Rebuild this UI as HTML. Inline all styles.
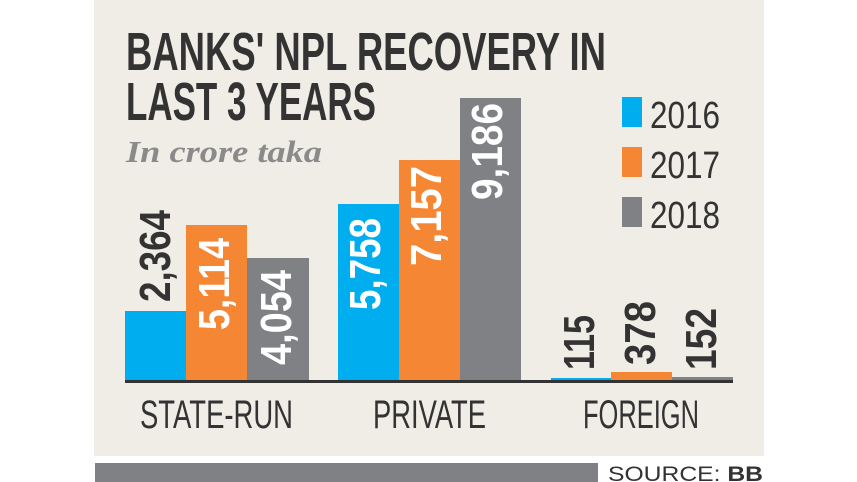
<!DOCTYPE html>
<html><head><meta charset="utf-8"><style>
html,body{margin:0;padding:0;background:#fff;width:857px;height:482px;overflow:hidden}
svg{display:block}
</style></head><body>
<svg width="857" height="482" viewBox="0 0 857 482" xmlns="http://www.w3.org/2000/svg">
<rect x="94" y="0" width="670" height="456" fill="#f0ede6"/>
<rect x="95" y="463" width="503" height="19" fill="#808184"/>
<text x="608" y="481" font-family="Liberation Sans, sans-serif" font-size="21" fill="#333" textLength="155" lengthAdjust="spacingAndGlyphs">SOURCE: <tspan font-weight="bold">BB</tspan></text>
<g font-family="Liberation Sans, sans-serif" font-weight="bold" fill="#333">
<text x="126" y="70" font-size="54" textLength="480" lengthAdjust="spacingAndGlyphs">BANKS' NPL RECOVERY IN</text>
<text x="126" y="120" font-size="54" textLength="250" lengthAdjust="spacingAndGlyphs">LAST 3 YEARS</text>
</g>
<text x="126" y="162" font-family="Liberation Serif, serif" font-style="italic" font-weight="bold" font-size="31" fill="#8a8a8a" textLength="196" lengthAdjust="spacingAndGlyphs">In crore taka</text>
<rect x="622" y="97" width="20" height="30" fill="#00aeef"/>
<rect x="622" y="147" width="20" height="30" fill="#f58634"/>
<rect x="622" y="197" width="20" height="30" fill="#808184"/>
<g font-family="Liberation Sans, sans-serif" font-size="38" fill="#333">
<text x="650" y="128" textLength="70" lengthAdjust="spacingAndGlyphs">2016</text>
<text x="650" y="178" textLength="70" lengthAdjust="spacingAndGlyphs">2017</text>
<text x="650" y="228" textLength="70" lengthAdjust="spacingAndGlyphs">2018</text>
</g>
<rect x="125" y="311" width="61" height="70" fill="#00aeef"/>
<rect x="186" y="225" width="61" height="156" fill="#f58634"/>
<rect x="247" y="258" width="62" height="123" fill="#808184"/>
<rect x="338" y="204" width="61" height="177" fill="#00aeef"/>
<rect x="399" y="160" width="61" height="221" fill="#f58634"/>
<rect x="460" y="98" width="61" height="283" fill="#808184"/>
<rect x="551" y="378" width="60" height="3" fill="#00aeef"/>
<rect x="611" y="372" width="61" height="9" fill="#f58634"/>
<rect x="672" y="377" width="61" height="4" fill="#808184"/>
<rect x="125" y="380" width="608" height="3" fill="#333"/>
<g font-family="Liberation Sans, sans-serif" font-weight="bold" font-size="44">
<text transform="translate(170,302) rotate(-90)" fill="#333" textLength="92" lengthAdjust="spacingAndGlyphs">2,364</text>
<text transform="translate(229,330) rotate(-90)" fill="#fff" textLength="92" lengthAdjust="spacingAndGlyphs">5,114</text>
<text transform="translate(291,365) rotate(-90)" fill="#fff" textLength="95" lengthAdjust="spacingAndGlyphs">4,054</text>
<text transform="translate(380,310) rotate(-90)" fill="#fff" textLength="92" lengthAdjust="spacingAndGlyphs">5,758</text>
<text transform="translate(441,266) rotate(-90)" fill="#fff" textLength="100" lengthAdjust="spacingAndGlyphs">7,157</text>
<text transform="translate(502,200) rotate(-90)" fill="#fff" textLength="97" lengthAdjust="spacingAndGlyphs">9,186</text>
<text transform="translate(594,370) rotate(-90)" fill="#333" textLength="55" lengthAdjust="spacingAndGlyphs">115</text>
<text transform="translate(655,365) rotate(-90)" fill="#333" textLength="64" lengthAdjust="spacingAndGlyphs">378</text>
<text transform="translate(716,370) rotate(-90)" fill="#333" textLength="62" lengthAdjust="spacingAndGlyphs">152</text>
</g>
<g font-family="Liberation Sans, sans-serif" font-size="40" fill="#333">
<text x="140" y="428" textLength="153" lengthAdjust="spacingAndGlyphs">STATE-RUN</text>
<text x="373" y="428" textLength="113" lengthAdjust="spacingAndGlyphs">PRIVATE</text>
<text x="583" y="428" textLength="116" lengthAdjust="spacingAndGlyphs">FOREIGN</text>
</g>
</svg>
</body></html>
